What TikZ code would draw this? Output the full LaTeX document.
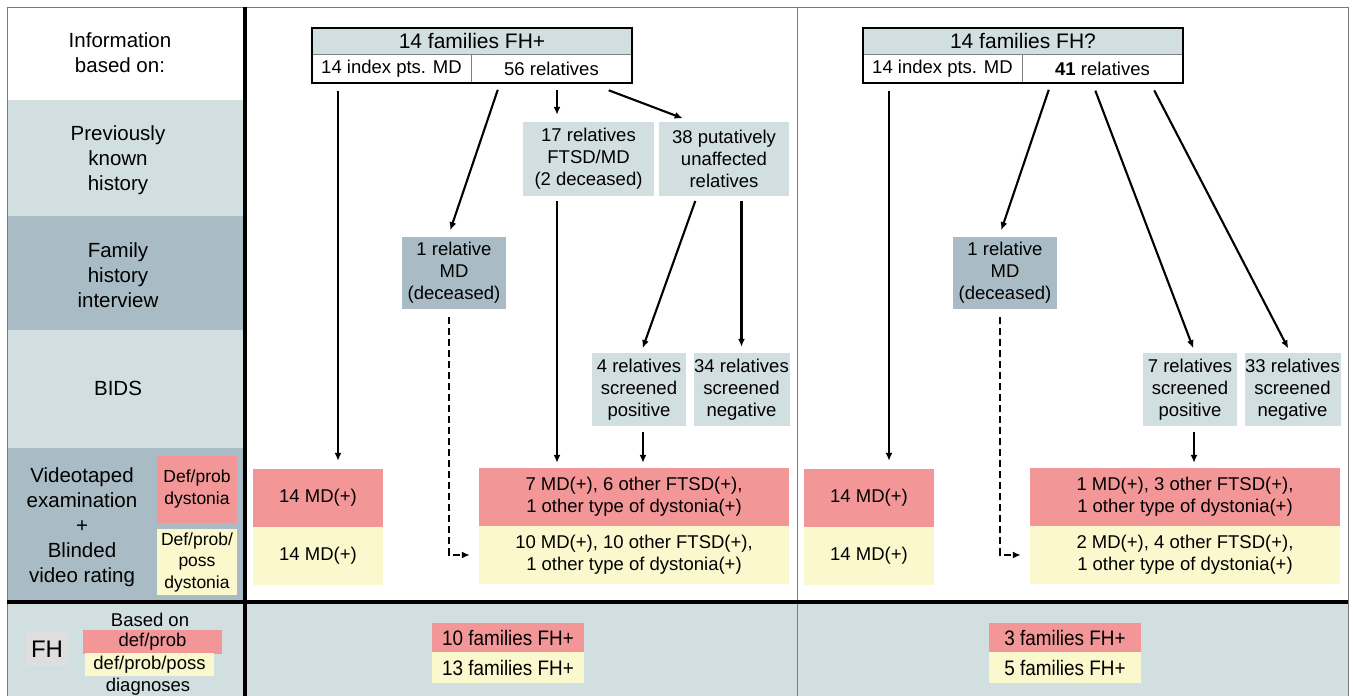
\documentclass[tikz,border=0pt]{standalone}
\usepackage{fontspec}
\setmainfont{Liberation Sans}
\newfontfamily\narrowfont[FakeStretch=0.9]{Liberation Sans}
\usetikzlibrary{arrows.meta}

\definecolor{bgLite}{HTML}{D1DFE1}
\definecolor{bgDark}{HTML}{A9BCC5}
\definecolor{rosa}{HTML}{F39698}
\definecolor{gelb}{HTML}{FCF8CE}
\definecolor{rahmen}{HTML}{7A7A7A}
\definecolor{fhgray}{HTML}{DEDEDE}

\tikzset{
  lbl/.style={align=center, font=\fontsize{20.5}{25}\selectfont},
  cell/.style={align=center, inner sep=0pt, font=\fontsize{18.5}{22}\selectfont},
  litebox/.style={cell, fill=bgLite},
  darkbox/.style={cell, fill=bgDark},
  redbox/.style={cell, fill=rosa},
  yelbox/.style={cell, fill=gelb},
  resbox/.style={minimum width=152pt, font=\narrowfont\fontsize{21}{25}\selectfont},
  arr/.style={line width=2.1pt, -{Latex[length=8pt,width=7pt]}, shorten <=7pt, shorten >=7pt},
  dasharr/.style={arr, dash pattern=on 7pt off 4pt},
}

\begin{document}
\begin{tikzpicture}[x=1pt, y=-1pt]
\useasboundingbox (0,0) rectangle (1353,696);

% rows of the left column and bottom row
\fill[bgLite] (7,100) rectangle (243,216);
\fill[bgDark] (7,216) rectangle (243,330);
\fill[bgLite] (7,330) rectangle (243,448);
\fill[bgDark] (7,448) rectangle (243,602);
\fill[bgLite] (7,602) rectangle (1348,696);
\draw[rahmen] (7,696) -- (7,7) -- (1348,7) -- (1348,696);
\draw[rahmen, line width=1pt] (797,7) -- (797,696);
\draw[line width=4pt] (245,7) -- (245,696);
\draw[line width=4pt] (7,602) -- (1348,602);

% left column
\node[lbl] (info) at (120,53) {Information\\based on:};
\node[lbl] (prev) at (118,160) {Previously\\known\\history};
\node[lbl] (fam) at (118,275) {Family\\history\\interview};
\node[lbl] (bids) at (118,388) {BIDS};
\node[lbl] (video) at (82,527) {Videotaped\\examination\\+\\Blinded\\video rating};
\node[redbox, minimum width=80pt, minimum height=67pt, font=\fontsize{17.5}{21.5}\selectfont] (defp) at (197,489) {Def/prob\\dystonia};
\node[yelbox, minimum width=80pt, minimum height=66pt, font=\fontsize{17.5}{21.5}\selectfont] (defpp) at (197,562) {Def/prob/\\poss\\dystonia};
\node[cell, fill=fhgray, minimum width=42pt, minimum height=34pt, font=\fontsize{24}{28}\selectfont] (fh) at (47,649) {FH};
\node[cell] (based) at (150,620) {Based on};
\node[redbox, minimum width=139pt, minimum height=24pt] (fhr) at (152.5,641.5) {def/prob};
\node[yelbox, minimum width=129pt, minimum height=23pt] (fhy) at (149.5,664.5) {def/prob/poss};
\node[cell] (diag) at (148,687) {diagnoses};

% left panel: FH+
\node[litebox, minimum width=320pt, minimum height=26pt, font=\fontsize{21}{25}\selectfont] (hL) at (472,41) {14 families FH+};
\node[cell, minimum width=159pt, minimum height=29pt] (iL) at (391.5,68.5) {14 index pts. MD};
\node[cell, minimum width=161pt, minimum height=29pt] (rL) at (551.5,68.5) {56 relatives};
\draw[gray] (hL.south west) -- (hL.south east);
\draw[gray] (iL.north east) -- (iL.south east);
\draw[line width=2.5pt] (hL.north west) rectangle (rL.south east);

\node[darkbox, minimum width=104pt, minimum height=72pt] (dL) at (454,273) {1 relative\\MD\\(deceased)};
\node[litebox, minimum width=131pt, minimum height=74pt] (fL) at (588.5,159) {17 relatives\\FTSD/MD\\(2 deceased)};
\node[litebox, minimum width=130pt, minimum height=74pt] (uL) at (724,159) {38 putatively\\unaffected\\relatives};
\node[litebox, minimum width=94pt, minimum height=73pt] (pL) at (639,389.5) {4 relatives\\screened\\positive};
\node[litebox, minimum width=96pt, minimum height=73pt] (nL) at (741.5,389.5) {34 relatives\\screened\\negative};
\node[redbox, minimum width=130pt, minimum height=58pt] (mrL) at (318,498) {14 MD(+)};
\node[yelbox, minimum width=130pt, minimum height=58pt] (myL) at (318,556) {14 MD(+)};
\node[redbox, minimum width=310pt, minimum height=58pt] (brL) at (634,497) {7 MD(+), 6 other FTSD(+),\\1 other type of dystonia(+)};
\node[yelbox, minimum width=310pt, minimum height=58pt] (byL) at (634,555) {10 MD(+), 10 other FTSD(+),\\1 other type of dystonia(+)};
\node[redbox, resbox, minimum height=29pt] (resLr) at (508,637.5) {10 families FH+};
\node[yelbox, resbox, minimum height=31pt] (resLy) at (508,667.5) {13 families FH+};

\draw[arr, shorten <=8pt, shorten >=8pt] ([xshift=-53.5pt]iL.south) -- ([xshift=-53.5pt]iL.south |- mrL.north);
\draw[arr] ([xshift=-51.5pt]rL.south) -- ([xshift=-6pt]dL.north);
\draw[arr] ([xshift=5.5pt]rL.south) -- ([xshift=5.5pt]rL.south |- fL.north);
\draw[arr, shorten <=20pt, shorten >=10pt] ([xshift=38.5pt]rL.south) -- ([xshift=-32pt]uL.north);
\draw[arr, shorten <=5pt, shorten >=5pt] ([xshift=-31.5pt]fL.south) -- ([xshift=-31.5pt]fL.south |- brL.north);
\draw[arr, shorten <=5pt, shorten >=5pt] ([xshift=-27pt]uL.south) -- ([xshift=2pt]pL.north);
\draw[arr, shorten <=5pt, shorten >=6pt] (nL.north |- uL.south) -- (nL.north);
\draw[arr, shorten <=6pt, shorten >=5pt] ([xshift=4pt]pL.south) -- ([xshift=4pt]pL.south |- brL.north);
\draw[dasharr, shorten <=8pt, shorten >=9pt] ([xshift=-5pt]dL.south) |- (byL.west);

% right panel: FH?
\begin{scope}[xshift=551pt]
\node[litebox, minimum width=320pt, minimum height=26pt, font=\fontsize{21}{25}\selectfont] (hR) at (472,41) {14 families FH?};
\node[cell, minimum width=159pt, minimum height=29pt] (iR) at (391.5,68.5) {14 index pts. MD};
\node[cell, minimum width=161pt, minimum height=29pt] (rR) at (551.5,68.5) {\textbf{41} relatives};
\draw[gray] (hR.south west) -- (hR.south east);
\draw[gray] (iR.north east) -- (iR.south east);
\draw[line width=2.5pt] (hR.north west) rectangle (rR.south east);

\node[darkbox, minimum width=104pt, minimum height=72pt] (dR) at (454,273) {1 relative\\MD\\(deceased)};
\node[litebox, minimum width=94pt, minimum height=73pt] (pR) at (639,389.5) {7 relatives\\screened\\positive};
\node[litebox, minimum width=96pt, minimum height=73pt] (nR) at (741.5,389.5) {33 relatives\\screened\\negative};
\node[redbox, minimum width=130pt, minimum height=58pt] (mrR) at (318,498) {14 MD(+)};
\node[yelbox, minimum width=130pt, minimum height=58pt] (myR) at (318,556) {14 MD(+)};
\node[redbox, minimum width=310pt, minimum height=58pt] (brR) at (634,497) {1 MD(+), 3 other FTSD(+),\\1 other type of dystonia(+)};
\node[yelbox, minimum width=310pt, minimum height=58pt] (byR) at (634,555) {2 MD(+), 4 other FTSD(+),\\1 other type of dystonia(+)};
\node[redbox, resbox, minimum height=29pt] (resRr) at (514,637.5) {3 families FH+};
\node[yelbox, resbox, minimum height=31pt] (resRy) at (514,667.5) {5 families FH+};

\draw[arr, shorten <=8pt, shorten >=8pt] ([xshift=-53.5pt]iR.south) -- ([xshift=-53.5pt]iR.south |- mrR.north);
\draw[arr] ([xshift=-51.5pt]rR.south) -- ([xshift=-6pt]dR.north);
\draw[arr, shorten <=8pt, shorten >=5pt] ([xshift=-10pt]rR.south) -- ([xshift=5pt]pR.north);
\draw[arr, shorten <=8pt, shorten >=5pt] ([xshift=48pt]rR.south) -- ([xshift=-2pt]nR.north);
\draw[arr, shorten <=6pt, shorten >=5pt] ([xshift=4pt]pR.south) -- ([xshift=4pt]pR.south |- brR.north);
\draw[dasharr, shorten <=8pt, shorten >=9pt] ([xshift=-5pt]dR.south) |- (byR.west);
\end{scope}
\end{tikzpicture}
\end{document}
